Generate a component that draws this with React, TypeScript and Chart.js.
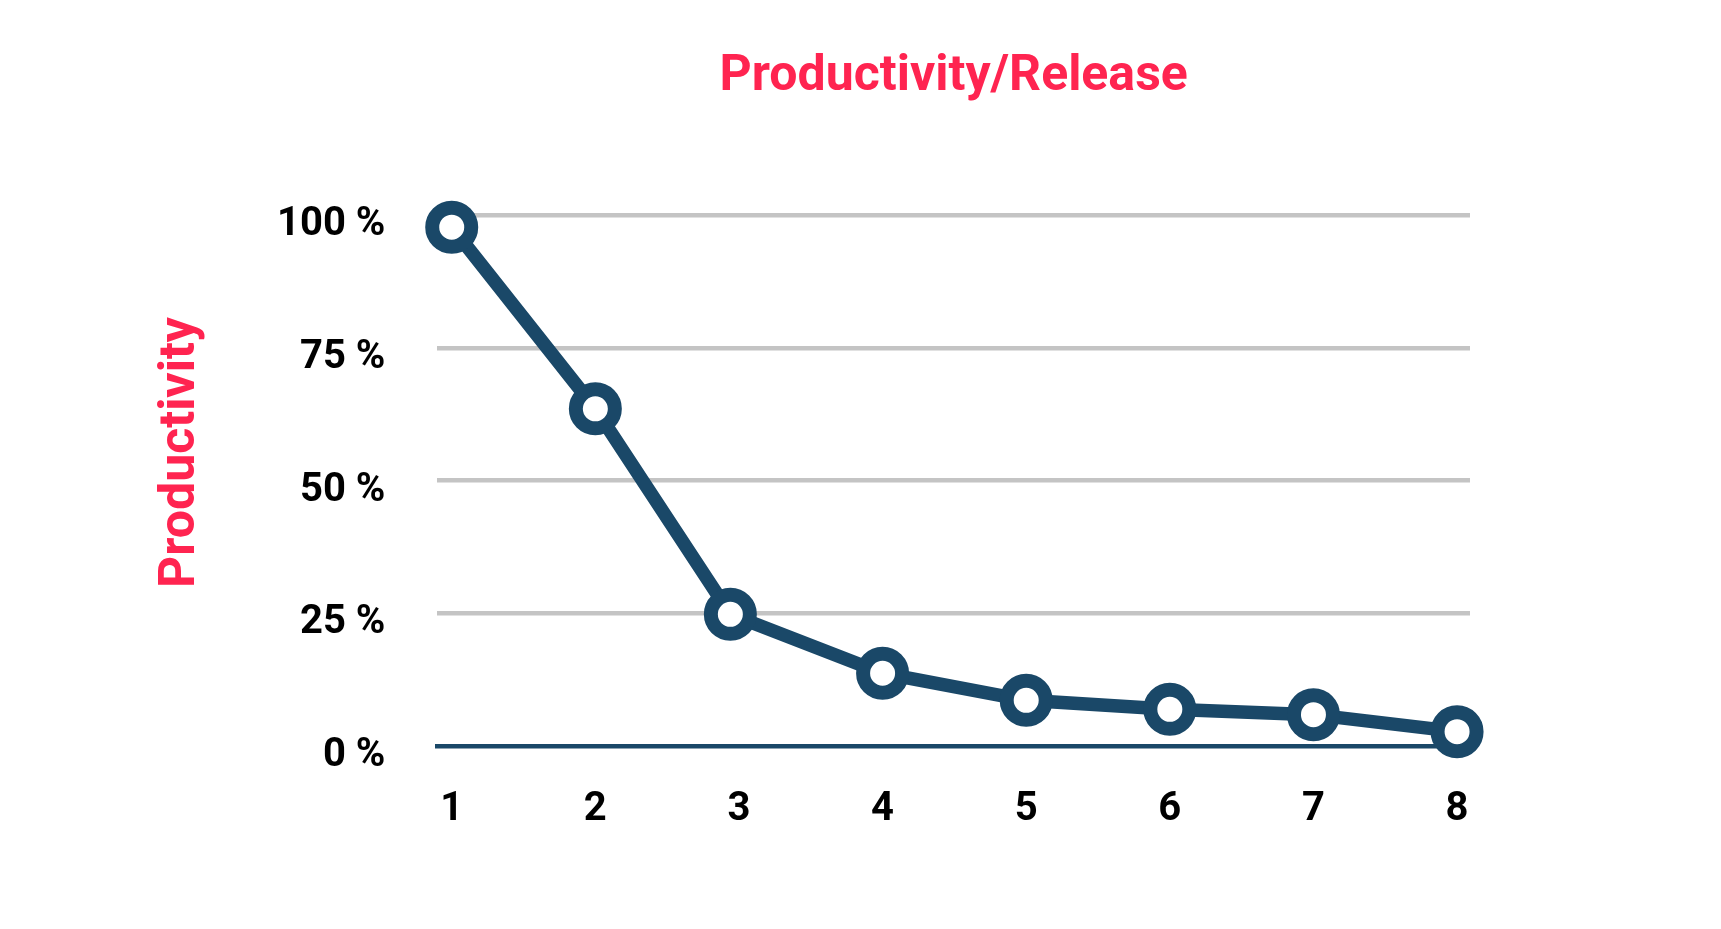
import React, { useEffect, useRef } from "react";
import { Chart, registerables } from "chart.js";

Chart.register(...registerables);

// release number (x) and productivity in % (y)
const releases = [1, 2, 2.94, 4, 5, 6, 7, 8];
const productivity = [97.7, 63.5, 24.8, 13.7, 8.6, 6.9, 5.9, 2.7];
const yTickStep = 25;

const NAVY = "#1a4868";
const PINK = "#ff2450";
const GRID = "#c4c4c4";
const FONT = "Roboto";

const App = () => {
  const canvasRef = useRef<HTMLCanvasElement | null>(null);
  const chartRef = useRef<Chart | null>(null);

  useEffect(() => {
    const ctx = canvasRef.current?.getContext("2d");
    if (!ctx) return;
    if (chartRef.current) chartRef.current.destroy();

    chartRef.current = new Chart(ctx, {
      type: "line",
      data: {
        datasets: [
          {
            label: "Productivity",
            data: releases.map((x, i) => ({ x, y: productivity[i] })),
            borderColor: NAVY,
            borderWidth: 13.5,
            tension: 0,
            pointRadius: 19.5,
            pointBorderWidth: 14,
            pointBorderColor: NAVY,
            pointBackgroundColor: "#ffffff",
            clip: false,
          },
        ],
      },
      options: {
        responsive: false,
        animation: false,
        events: [],
        layout: { padding: { left: 0, right: 251, top: 0, bottom: 24 } },
        plugins: {
          legend: { display: false },
          tooltip: { enabled: false },
          title: {
            display: true,
            text: "Productivity/Release",
            color: PINK,
            fullSize: false,
            font: { family: FONT, size: 50, weight: "bold" },
            padding: { top: 47, bottom: 108 },
          },
          subtitle: {
            display: true,
            text: "Productivity",
            position: "left",
            color: PINK,
            font: { family: FONT, size: 50, weight: "bold" },
            padding: { top: 151, bottom: 14 },
          },
        },
        scales: {
          x: {
            type: "linear",
            min: 0.9,
            max: 8.09,
            grid: { display: false, drawTicks: false },
            border: { display: true, color: NAVY, width: 4.5 },
            ticks: {
              stepSize: 1,
              includeBounds: false,
              padding: 40,
              color: "#000000",
              font: { family: FONT, size: 40, weight: "bold" },
            },
            // empty title only keeps room below the tick labels
            title: {
              display: true,
              text: "",
              font: { size: 10 },
              padding: { top: 0, bottom: 19 },
            },
          },
          y: {
            min: 0,
            max: 100,
            grid: {
              color: (c: any) => (c.tick && c.tick.value === 0 ? "rgba(0,0,0,0)" : GRID),
              lineWidth: 4.5,
              drawTicks: false,
            },
            border: { display: false },
            ticks: {
              stepSize: yTickStep,
              padding: 52,
              labelOffset: 10,
              color: "#000000",
              font: { family: FONT, size: 40, weight: "bold" },
              callback: (v: any) => `${v} %`,
            },
          },
        },
      },
    });

    return () => {
      if (chartRef.current) {
        chartRef.current.destroy();
        chartRef.current = null;
      }
    };
  }, []);

  return (
    <div style={{ position: "fixed", left: 0, top: 0, width: 1721, height: 929, background: "#ffffff" }}>
      <canvas ref={canvasRef} width={1721} height={929} style={{ display: "block" }}></canvas>
    </div>
  );
};

export default App;
